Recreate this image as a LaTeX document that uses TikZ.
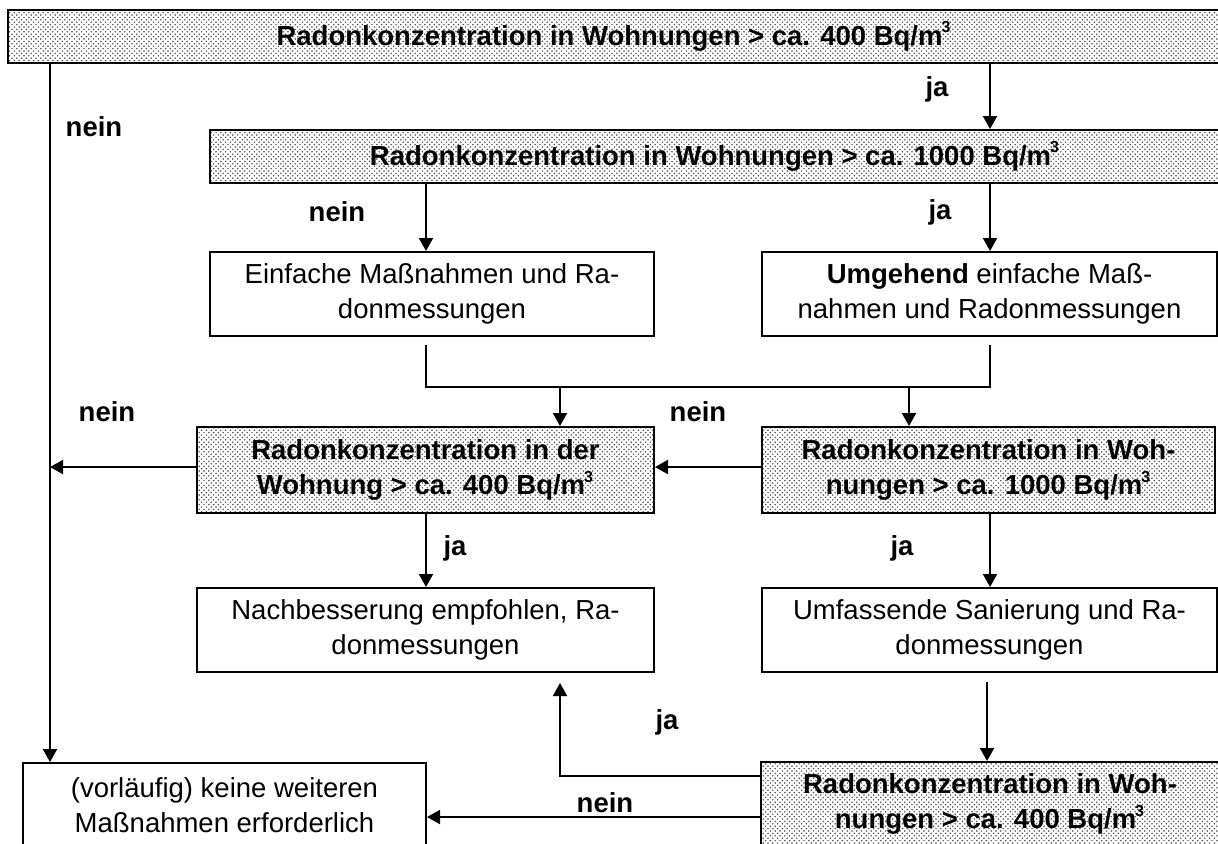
\documentclass[tikz,border=0pt]{standalone}
\usepackage{fontspec}
\setmainfont{Liberation Sans}
\usetikzlibrary{arrows.meta,patterns}
\pgfdeclarepatternformonly{finedots}{\pgfqpoint{-0.6pt}{-0.6pt}}{\pgfqpoint{3pt}{3pt}}{\pgfqpoint{2.4pt}{2.4pt}}{%
  \pgfpathcircle{\pgfqpoint{0pt}{0pt}}{0.42pt}%
  \pgfpathcircle{\pgfqpoint{1.2pt}{1.2pt}}{0.42pt}%
  \pgfusepath{fill}}
\newcommand{\txtfont}{\fontsize{13.75pt}{17.5pt}\selectfont}
\newcommand{\cub}{\textsuperscript{\kern-0.5pt\raisebox{1pt}{\fontsize{8pt}{8pt}\selectfont 3}}}
\begin{document}
\begin{tikzpicture}[x=0.5pt,y=-0.5pt,line width=1pt,
  box/.style={draw, line width=1pt, align=center, inner sep=0pt, minimum height=42pt, font=\txtfont},
  sbox/.style={box, pattern=finedots, pattern color=black!70, font=\txtfont\bfseries},
  lbl/.style={font=\txtfont\bfseries, inner sep=0pt},
  arr/.style={-{Triangle[length=6.5pt,width=7pt]}, line width=1pt}]
\useasboundingbox (0,0) rectangle (1218,843);
\clip (0,0) rectangle (1218,843);

% boxes
\node[sbox, minimum width=606pt, minimum height=26.5pt] (q1) at (614,36.5)
  {Radonkonzentration in Wohnungen > ca. 400 Bq/m\cub};
\node[sbox, minimum width=505pt, minimum height=26.5pt] (q2) at (715,156.5)
  {Radonkonzentration in Wohnungen > ca. 1000 Bq/m\cub};
\node[box, minimum width=222pt] (e1) at (432,294)
  {Einfache Maßnahmen und Ra-\\donmessungen};
\node[box, minimum width=227.5pt] (e2) at (989.5,294)
  {\textbf{Umgehend} einfache Maß-\\nahmen und Radonmessungen};
\node[sbox, minimum width=228.5pt, minimum height=43pt] (q3) at (425.5,470)
  {Radonkonzentration in der\\Wohnung > ca. 400 Bq/m\cub};
\node[sbox, minimum width=226.5pt, minimum height=43pt] (q4) at (988.5,470)
  {Radonkonzentration in Woh-\\nungen > ca. 1000 Bq/m\cub};
\node[box, minimum width=228.5pt] (n1) at (425.5,630)
  {Nachbesserung empfohlen, Ra-\\donmessungen};
\node[box, minimum width=227.5pt] (n2) at (989.5,630)
  {Umfassende Sanierung und Ra-\\donmessungen};
\node[box, minimum width=201.5pt] (f1) at (224.5,805)
  {(vorläufig) keine weiteren\\Maßnahmen erforderlich};
\node[sbox, minimum width=229pt] (q5) at (990,804)
  {Radonkonzentration in Woh-\\nungen > ca. 400 Bq/m\cub};

% helper coordinates
\coordinate (xl) at (50,0);
\coordinate (xa) at (990,0);
\coordinate (xb) at (426,0);
\coordinate (xc) at (560,0);
\coordinate (xd) at (909,0);
\coordinate (j1) at (426,345);
\coordinate (j2) at (990,345);
\coordinate (jy) at (0,387);
\coordinate (yh) at (0,467);
\coordinate (u1) at (987,682);
\coordinate (u2) at (560,683);
\coordinate (yj) at (0,776);
\coordinate (yk) at (0,817);

% connectors
\draw[arr] (q1.south -| xa) -- (q2.north -| xa);
\draw[arr] (q1.south -| xl) -- (f1.north -| xl);
\draw[arr] (q2.south -| xb) -- (e1.north -| xb);
\draw[arr] (q2.south -| xa) -- (e2.north -| xa);
\draw (j1) -- (j1 |- jy) -- (j2 |- jy) -- (j2);
\draw[arr] (jy -| xc) -- (q3.north -| xc);
\draw[arr] (jy -| xd) -- (q4.north -| xd);
\draw[arr] (q4.west |- yh) -- (q3.east |- yh);
\draw[arr] (q3.west |- yh) -- (xl |- yh);
\draw[arr] (q3.south -| xb) -- (n1.north -| xb);
\draw[arr] (q4.south -| xa) -- (n2.north -| xa);
\draw[arr] (u1) -- (q5.north -| u1);
\draw[arr] (q5.west |- yj) -- (xc |- yj) -- (u2);
\draw[arr] (q5.west |- yk) -- (f1.east |- yk);

% labels
\node[lbl] (l1) at (937,89) {ja};
\node[lbl] (l2) at (94,127) {nein};
\node[lbl] (l3) at (337,212) {nein};
\node[lbl] (l4) at (940,212) {ja};
\node[lbl] (l5) at (107,412) {nein};
\node[lbl] (l6) at (698,412) {nein};
\node[lbl] (l7) at (455,548) {ja};
\node[lbl] (l8) at (902,548) {ja};
\node[lbl] (l9) at (667,722) {ja};
\node[lbl] (l10) at (605,803) {nein};
\end{tikzpicture}
\end{document}
